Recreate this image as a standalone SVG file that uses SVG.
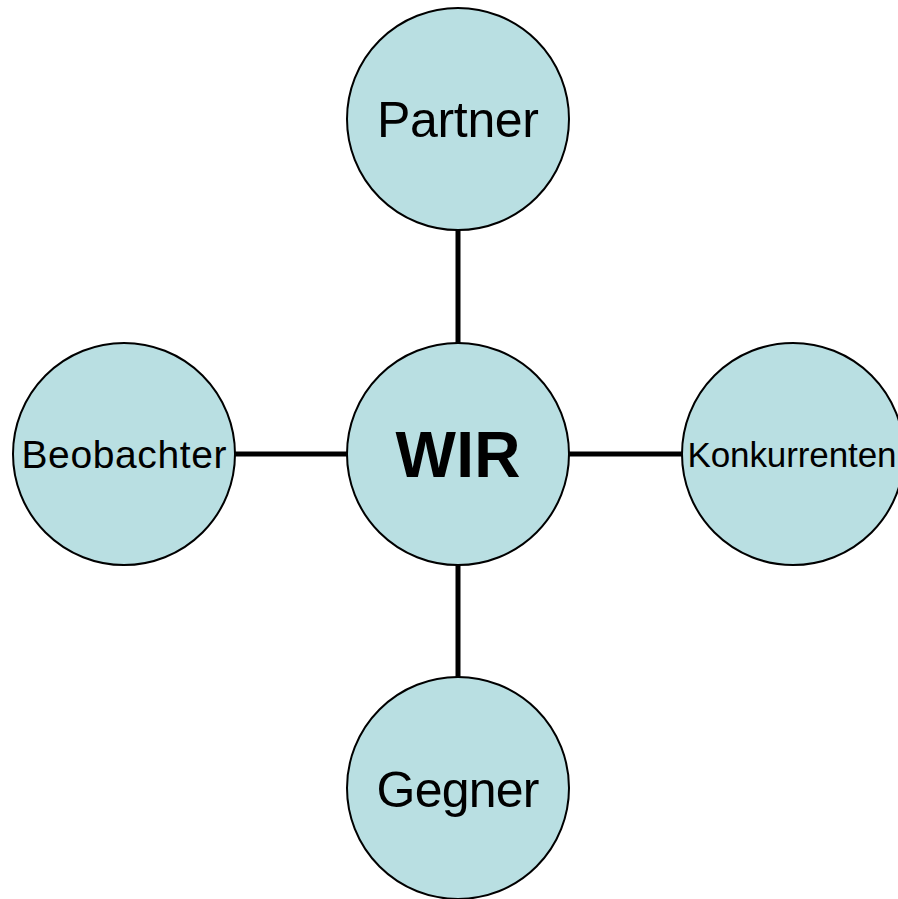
<svg xmlns="http://www.w3.org/2000/svg" width="898" height="899" viewBox="0 0 898 899">
<style>
.node circle{fill:#b9dfe2;stroke:#000;stroke-width:2}
.lbl{font-family:"Liberation Sans",Arial,sans-serif;fill:#000;text-anchor:middle}
.edges line{stroke:#000;stroke-width:5}
</style>
<rect width="898" height="899" fill="#fff"/>
<g class="edges" id="connectors">
<line x1="458" y1="228" x2="458" y2="345"/>
<line x1="458" y1="563" x2="458" y2="679"/>
<line x1="233" y1="454" x2="349" y2="454"/>
<line x1="567" y1="454" x2="684" y2="454"/>
</g>
<g class="node" id="partner"><circle cx="458" cy="119" r="111"/><text class="lbl" x="458" y="137" font-size="50" textLength="162">Partner</text></g>
<g class="node" id="wir"><circle cx="458" cy="454" r="111"/><text class="lbl" x="458" y="477" font-size="64" font-weight="bold" textLength="125">WIR</text></g>
<g class="node" id="beobachter"><circle cx="124" cy="454" r="111"/><text class="lbl" x="124" y="468" font-size="39" textLength="205">Beobachter</text></g>
<g class="node" id="konkurrenten"><circle cx="793" cy="454" r="111"/><text class="lbl" x="792" y="467" font-size="35" textLength="209">Konkurrenten</text></g>
<g class="node" id="gegner"><circle cx="458" cy="788" r="111"/><text class="lbl" x="458" y="807" font-size="50" textLength="163">Gegner</text></g>
</svg>
